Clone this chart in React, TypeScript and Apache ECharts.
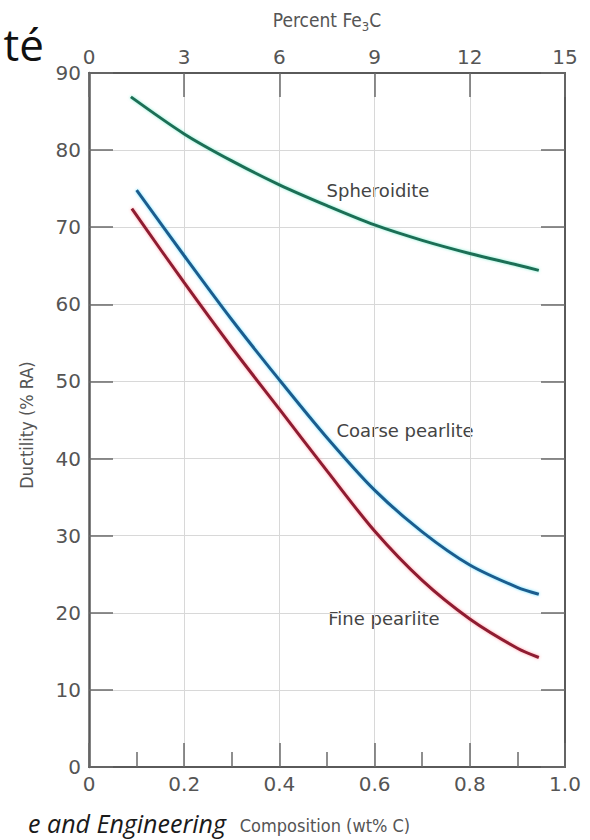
import React, { useEffect, useRef } from "react";
import * as echarts from "echarts";

// ---- data ----
const spheroiditeC = [0.088, 0.2, 0.3, 0.4, 0.5, 0.6, 0.7, 0.8, 0.9, 0.945];
const spheroiditeRA = [86.9, 82.1, 78.6, 75.5, 72.8, 70.3, 68.3, 66.6, 65.1, 64.4];

const coarseC = [0.1, 0.2, 0.3, 0.4, 0.5, 0.6, 0.7, 0.8, 0.9, 0.945];
const coarseRA = [74.8, 66.3, 58.0, 50.2, 42.7, 35.9, 30.5, 26.2, 23.3, 22.4];

const fineC = [0.09, 0.2, 0.3, 0.4, 0.5, 0.6, 0.7, 0.8, 0.9, 0.945];
const fineRA = [72.4, 62.8, 54.4, 46.4, 38.4, 30.6, 24.2, 19.2, 15.4, 14.2];

const compositionTickLabels = ["0", "0.2", "0.4", "0.6", "0.8", "1.0"];
const fe3cTickLabels = ["0", "3", "6", "9", "12", "15"];
const ductilityTickLabels = ["0", "10", "20", "30", "40", "50", "60", "70", "80", "90"];

const seriesNames = ["Spheroidite", "Coarse pearlite", "Fine pearlite"];

const zip = (xs: number[], ys: number[]) => xs.map((x, i) => [x, ys[i]]);

const tickFont = "'DejaVu Sans', sans-serif";
const condFont = "'DejaVu Sans Condensed', 'Liberation Sans Narrow', 'Roboto Condensed', 'DejaVu Sans', sans-serif";
const frameColor = "#5a5a5a";
const tickColor = "#6a6a6a";
const gridColor = "#d8d8d8";
const labelColor = "#555";

export default function App() {
  const ref = useRef<HTMLDivElement>(null);

  useEffect(() => {
    document.body.style.margin = "0";
    const chart = echarts.init(ref.current!, null, { renderer: "svg" });

    const commonTick = {
      show: true,
      inside: true,
      length: 24,
      lineStyle: { color: tickColor, width: 1.5 },
    };
    const commonLine = {
      show: true,
      onZero: false,
      lineStyle: { color: frameColor, width: 2 },
    };

    const lineSeries = (name: string, xs: number[], ys: number[], color: string, glow: string) => ({
      type: "line",
      name,
      data: zip(xs, ys),
      smooth: 0.3,
      showSymbol: false,
      symbol: "none",
      silent: true,
      lineStyle: { color, width: 3, shadowColor: glow, shadowBlur: 3 },
      z: 5,
    });

    const option: any = {
      animation: false,
      backgroundColor: "#ffffff",
      grid: { left: 89, top: 73, width: 476, height: 694, containLabel: false },
      xAxis: [
        {
          type: "value",
          position: "bottom",
          min: 0,
          max: 1,
          interval: 0.2,
          axisLine: commonLine,
          axisTick: commonTick,
          minorTick: { show: true, splitNumber: 2, length: 15, lineStyle: { color: tickColor, width: 1.5 } },
          splitLine: { show: true, lineStyle: { color: gridColor, width: 1 } },
          axisLabel: {
            margin: 7,
            fontSize: 20,
            color: labelColor,
            fontFamily: tickFont,
            showMinLabel: true,
            showMaxLabel: true,
            formatter: (v: number) => compositionTickLabels[Math.round(v / 0.2)] ?? "",
          },
        },
        {
          type: "value",
          position: "top",
          min: 0,
          max: 15,
          interval: 3,
          axisLine: commonLine,
          axisTick: commonTick,
          splitLine: { show: false },
          axisLabel: {
            margin: 6,
            fontSize: 20,
            color: labelColor,
            fontFamily: tickFont,
            showMinLabel: true,
            showMaxLabel: true,
            formatter: (v: number) => fe3cTickLabels[Math.round(v / 3)] ?? "",
          },
        },
      ],
      yAxis: [
        {
          type: "value",
          position: "left",
          min: 0,
          max: 90,
          interval: 10,
          axisLine: { ...commonLine, lineStyle: { color: frameColor, width: 2.5 } },
          axisTick: commonTick,
          splitLine: { show: true, lineStyle: { color: gridColor, width: 1 } },
          axisLabel: {
            margin: 8,
            fontSize: 20,
            color: labelColor,
            fontFamily: tickFont,
            showMinLabel: true,
            showMaxLabel: true,
            formatter: (v: number) => ductilityTickLabels[Math.round(v / 10)] ?? "",
          },
        },
        {
          type: "value",
          position: "right",
          min: 0,
          max: 90,
          interval: 10,
          axisLine: commonLine,
          axisTick: commonTick,
          splitLine: { show: false },
          axisLabel: { show: false },
        },
      ],
      series: [
        lineSeries(seriesNames[0], spheroiditeC, spheroiditeRA, "#1f6e55", "rgba(40,220,170,0.55)"),
        lineSeries(seriesNames[1], coarseC, coarseRA, "#1b5c8e", "rgba(0,200,255,0.55)"),
        lineSeries(seriesNames[2], fineC, fineRA, "#8e1c30", "rgba(255,70,90,0.55)"),
      ],
      graphic: [
        {
          type: "text",
          style: {
            text: "té",
            x: 44,
            y: 44,
            align: "right",
            verticalAlign: "middle",
            fontSize: 44,
            fontFamily: "'Open Sans', 'Noto Sans', sans-serif",
            fill: "#111",
          },
        },
        {
          type: "text",
          style: {
            text: "e and Engineering",
            x: 226,
            y: 823,
            align: "right",
            verticalAlign: "middle",
            fontSize: 25,
            fontStyle: "italic",
            fontFamily: "'Open Sans', 'Noto Sans', sans-serif",
            fill: "#1a1a1a",
          },
        },
        {
          type: "text",
          style: {
            text: "Percent Fe{sub|3}C",
            x: 327,
            y: 20,
            align: "center",
            verticalAlign: "middle",
            fontSize: 19,
            lineHeight: 26,
            fontFamily: condFont,
            fill: labelColor,
            rich: {
              sub: { fontSize: 13, lineHeight: 14, verticalAlign: "bottom", fontFamily: condFont, fill: labelColor },
            },
          },
        },
        {
          type: "text",
          style: {
            text: "Composition (wt% C)",
            x: 325,
            y: 825,
            align: "center",
            verticalAlign: "middle",
            fontSize: 18,
            fontFamily: condFont,
            fill: labelColor,
          },
        },
        {
          type: "text",
          x: 26,
          y: 425,
          rotation: Math.PI / 2,
          style: {
            text: "Ductility (% RA)",
            x: 0,
            y: 0,
            align: "center",
            verticalAlign: "middle",
            fontSize: 18,
            fontFamily: condFont,
            fill: labelColor,
          },
        },
        {
          type: "text",
          style: { text: seriesNames[0], x: 378, y: 190, align: "center", verticalAlign: "middle", fontSize: 18, fontFamily: tickFont, fill: "#444" },
        },
        {
          type: "text",
          style: { text: seriesNames[1], x: 405, y: 430, align: "center", verticalAlign: "middle", fontSize: 18, fontFamily: tickFont, fill: "#444" },
        },
        {
          type: "text",
          style: { text: seriesNames[2], x: 384, y: 618, align: "center", verticalAlign: "middle", fontSize: 18, fontFamily: tickFont, fill: "#444" },
        },
      ],
    };

    chart.setOption(option);
    return () => chart.dispose();
  }, []);

  return <div ref={ref} style={{ width: 590, height: 840 }} />;
}
